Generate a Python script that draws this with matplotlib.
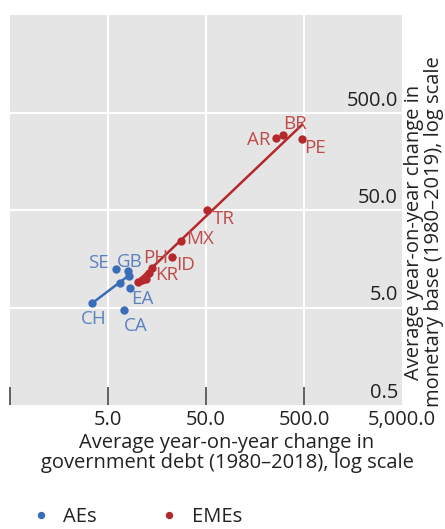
import numpy as np
import matplotlib
matplotlib.use("Agg")
import matplotlib.pyplot as plt
from matplotlib.lines import Line2D
import matplotlib.transforms as mtransforms

plt.rcParams['font.family'] = ['Open Sans', 'DejaVu Sans']

# Data
ae_codes = ["SE", "GB", "", "", "EA", "CH", "CA"]
ae_debt = [6.1, 8.05, 8.2, 6.7, 8.45, 3.46, 7.3]
ae_base = [12.4, 11.9, 10.5, 8.9, 8.0, 5.5, 4.7]

eme_codes = ["", "", "KR", "", "PH", "ID", "MX", "TR", "AR", "BR", "PE"]
eme_debt = [10.0, 11.1, 12.2, 13.1, 13.9, 22.3, 27.5, 50.8, 259, 307, 474]
eme_base = [9.1, 9.6, 9.9, 11.2, 12.7, 16.5, 24.2, 50, 272, 294, 265]

# trend lines (end points)
ae_fit_debt = [3.46, 8.4]
ae_fit_base = [5.55, 10.9]
eme_fit_debt = [9.8, 474]
eme_fit_base = [9.06, 372]

# label offsets (pixels)
ae_offsets = {"SE": (-18, 6), "GB": (1, 9), "EA": (12, -11), "CH": (1, -16), "CA": (12, -16)}
eme_offsets = {"KR": (21, 4), "PH": (4, 10), "ID": (14, -8), "MX": (20, 2), "TR": (17, -9),
               "AR": (-17, -2), "BR": (12, 11), "PE": (13, -9)}

x_label_ticks = [5, 50, 500, 5000]
x_label_text = ["5.0", "50.0", "500.0", "5,000.0"]
x_mark_ticks = [0.5, 5, 50, 500]
y_ticks = [0.5, 5, 50, 500]
y_tick_text = ["0.5", "5.0", "50.0", "500.0"]

blue = "#3a6db8"
blue_txt = "#5b82bf"
red = "#b5282c"
red_txt = "#c04a4a"
txt = "#222222"
FS = 14.5

fig = plt.figure(figsize=(4.45, 5.29), dpi=100)
ax = fig.add_axes([10/445, 124/529, 392/445, 390/529])
ax.set_facecolor("#e5e5e5")
ax.set_xscale("log")
ax.set_yscale("log")
ax.set_xlim(0.5, 5000)
ax.set_ylim(0.5, 5000)
for s in ax.spines.values():
    s.set_visible(False)

# grid
for v in [5, 50, 500]:
    ax.axvline(v, color="white", lw=1.5, zorder=1)
for v in [5, 50, 500]:
    ax.axhline(v, color="white", lw=1.5, zorder=1)

# ticks: marks at 0.5..500, labels at 5..5000
ax.xaxis.set_major_locator(matplotlib.ticker.FixedLocator(x_mark_ticks))
ax.xaxis.set_major_formatter(matplotlib.ticker.NullFormatter())
ax.xaxis.set_minor_locator(matplotlib.ticker.NullLocator())
ax.tick_params(axis="x", which="major", direction="in", length=13, width=1.3, color="#555555")
ax.set_yticks([])
ax.yaxis.set_minor_locator(matplotlib.ticker.NullLocator())

trans_x = mtransforms.blended_transform_factory(ax.transData, ax.transAxes)
for v, t in zip(x_label_ticks, x_label_text):
    ax.annotate(t, xy=(v, 0), xycoords=trans_x, xytext=(0, -20), textcoords="offset pixels",
                ha="center", va="baseline", fontsize=FS, color=txt, annotation_clip=False)

trans_y = mtransforms.blended_transform_factory(ax.transAxes, ax.transData)
for v, t in zip(y_ticks, y_tick_text):
    ax.annotate(t, xy=(1, v), xycoords=trans_y, xytext=(-4, 7), textcoords="offset pixels",
                ha="right", va="baseline", fontsize=FS, color=txt, annotation_clip=False)

# trend lines
ax.plot(ae_fit_debt, ae_fit_base, color=blue, lw=1.8, zorder=2)
ax.plot(eme_fit_debt, eme_fit_base, color=red, lw=1.8, zorder=2)

ax.scatter(ae_debt, ae_base, s=36, color=blue, zorder=3, linewidths=0)
ax.scatter(eme_debt, eme_base, s=36, color=red, zorder=3, linewidths=0)

for c, x, y in zip(ae_codes, ae_debt, ae_base):
    if c:
        dx, dy = ae_offsets[c]
        ax.annotate(c, (x, y), xytext=(dx, dy), textcoords="offset pixels",
                    ha="center", va="center", fontsize=13.5, color=blue_txt, zorder=4)
for c, x, y in zip(eme_codes, eme_debt, eme_base):
    if c:
        dx, dy = eme_offsets[c]
        ax.annotate(c, (x, y), xytext=(dx, dy), textcoords="offset pixels",
                    ha="center", va="center", fontsize=13.5, color=red_txt, zorder=4)

# axis titles
fig.text(227/445, 1 - 453/529, "Average year-on-year change in\ngovernment debt (1980\u20132018), log scale",
         ha="center", va="center", fontsize=FS, color=txt, linespacing=1.05)
fig.text(424/445, 1 - 232/529, "Average year-on-year change in\nmonetary base (1980\u20132019), log scale",
         ha="center", va="center", rotation=90, fontsize=FS, color=txt, linespacing=1.0)

# legend
handles = [Line2D([], [], ls="", marker="o", ms=4.3, color=blue),
           Line2D([], [], ls="", marker="o", ms=4.3, color=red)]
fig.legend(handles, ["AEs", "EMEs"], loc="center left", bbox_to_anchor=(31/445, 1 - 517/529),
           ncol=2, frameon=False, fontsize=FS, handlelength=1.0, handletextpad=0.6,
           columnspacing=3.1, labelcolor=txt, borderpad=0, borderaxespad=0)

fig.savefig("out.png", dpi=100)
